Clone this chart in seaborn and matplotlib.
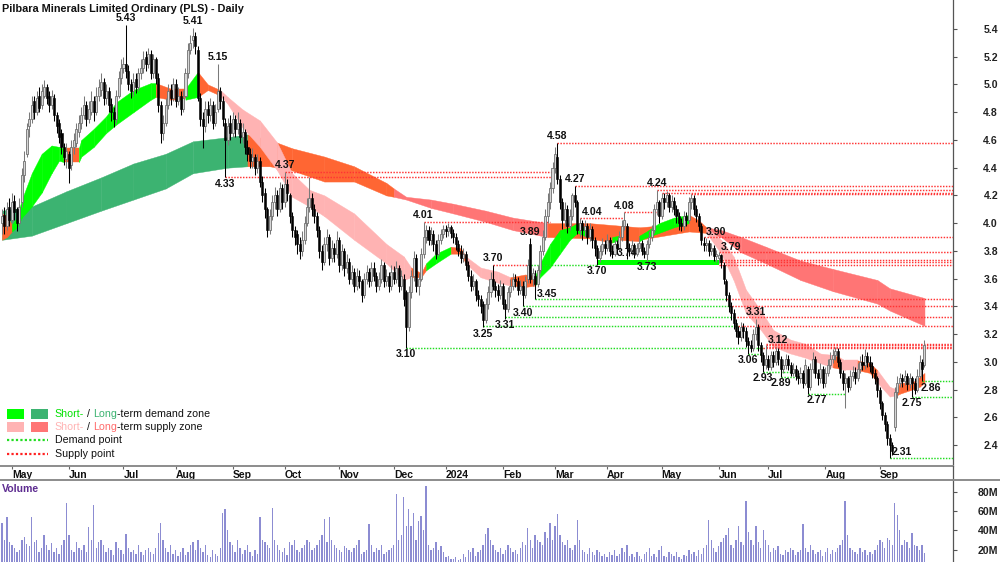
import numpy as np
import pandas as pd
import matplotlib
matplotlib.use("Agg")
import matplotlib.pyplot as plt
from matplotlib.patches import Rectangle
from matplotlib.lines import Line2D
from matplotlib.offsetbox import TextArea, DrawingArea, HPacker, VPacker, AnchoredOffsetbox
import seaborn as sns

# ---------------------------------------------------------------- data
title = "Pilbara Minerals Limited Ordinary (PLS) - Daily"
first_day = "2023-04-25"

opens = [
    4.00,4.06,3.98,4.12,4.02,4.16,4.10,4.00,4.15,4.35,
    4.50,4.70,4.75,4.88,4.80,4.92,4.85,4.92,4.98,4.92,
    4.85,4.90,4.78,4.72,4.65,4.55,4.46,4.50,4.42,4.55,
    4.58,4.66,4.72,4.78,4.85,4.75,4.80,4.88,4.80,4.92,
    4.96,5.02,4.90,4.95,4.86,4.80,4.75,4.92,5.05,5.12,
    5.15,5.10,5.00,4.95,5.04,4.98,5.08,5.12,5.20,5.15,
    5.22,5.08,5.18,5.05,4.85,4.65,4.72,4.85,4.96,4.90,
    5.00,4.88,4.92,4.82,4.92,5.08,5.25,5.32,5.35,5.25,
    4.90,4.75,4.70,4.82,4.78,4.85,4.72,4.82,4.95,4.88,
    4.72,4.60,4.72,4.65,4.75,4.68,4.72,4.62,4.66,4.55,
    4.50,4.45,4.48,4.40,4.45,4.30,4.22,4.10,3.95,4.05,
    4.15,4.20,4.10,4.25,4.15,4.28,4.20,4.05,3.95,3.92,
    3.85,3.80,3.88,4.00,4.12,4.18,4.10,4.05,3.95,3.80,
    3.72,3.85,3.90,3.75,3.82,3.78,3.88,3.70,3.80,3.68,
    3.72,3.60,3.65,3.55,3.62,3.58,3.48,3.60,3.65,3.58,
    3.68,3.62,3.55,3.60,3.70,3.58,3.62,3.55,3.65,3.60,
    3.68,3.55,3.60,3.50,3.25,3.50,3.62,3.75,3.55,3.60,
    3.78,3.90,3.95,3.88,3.92,3.85,3.78,3.88,3.92,3.96,
    3.94,3.97,3.93,3.90,3.85,3.80,3.75,3.78,3.70,3.62,
    3.55,3.58,3.48,3.45,3.42,3.30,3.42,3.50,3.60,3.55,
    3.52,3.48,3.55,3.42,3.38,3.50,3.55,3.60,3.58,3.52,
    3.55,3.48,3.60,3.85,3.60,3.62,3.56,3.66,3.80,3.90,
    4.05,4.15,4.25,4.40,4.48,4.32,4.15,4.02,4.10,3.98,
    4.05,4.20,4.15,3.95,4.00,3.95,3.98,3.90,3.96,3.88,
    3.82,3.75,3.80,3.85,3.82,3.88,3.80,3.78,3.85,3.82,
    3.90,3.98,3.98,3.82,3.80,3.84,3.78,3.82,3.86,3.80,
    3.78,3.85,3.90,3.95,4.10,4.15,4.05,4.18,4.15,4.20,
    4.12,4.16,4.10,4.05,4.00,3.98,4.05,4.02,4.15,4.18,
    4.10,4.05,3.98,3.86,3.84,3.86,3.80,3.82,3.76,3.75,
    3.77,3.70,3.58,3.48,3.40,3.35,3.28,3.22,3.18,3.25,
    3.22,3.15,3.12,3.10,3.20,3.25,3.12,3.05,2.98,3.02,
    2.96,3.05,3.00,3.08,3.02,2.95,2.98,3.02,2.98,2.92,
    2.95,2.90,2.88,2.92,2.85,2.95,2.82,2.95,3.02,2.92,
    2.88,2.95,2.85,2.92,2.98,3.02,3.05,3.08,3.00,2.92,
    2.85,2.88,2.82,2.90,2.93,2.88,2.95,3.00,2.98,3.04,
    3.00,2.97,2.92,2.88,2.80,2.70,2.62,2.55,2.45,2.40,
    2.53,2.78,2.85,2.88,2.86,2.90,2.84,2.88,2.85,2.80,
    2.90,3.00,2.98]

highs = [
    4.10,4.12,4.15,4.18,4.22,4.20,4.12,4.18,4.40,4.52,
    4.72,4.80,4.92,4.92,4.95,4.98,5.00,5.03,5.00,4.95,
    4.96,4.93,4.80,4.75,4.68,4.58,4.58,4.52,4.60,4.65,
    4.72,4.78,4.84,4.92,4.88,4.88,4.95,4.92,4.98,5.04,
    5.08,5.05,5.00,4.98,4.90,4.84,4.96,5.10,5.18,5.20,
    5.43,5.14,5.04,5.08,5.08,5.12,5.18,5.24,5.24,5.26,
    5.25,5.22,5.20,5.08,4.88,4.78,4.90,5.00,5.00,5.05,
    5.04,4.98,4.95,4.96,5.12,5.30,5.36,5.41,5.38,5.28,
    4.94,4.80,4.88,4.88,4.90,4.88,4.86,5.15,4.98,4.92,
    4.76,4.76,4.78,4.80,4.78,4.80,4.75,4.72,4.68,4.60,
    4.54,4.54,4.50,4.50,4.48,4.34,4.25,4.12,4.10,4.20,
    4.26,4.24,4.30,4.28,4.37,4.32,4.22,4.08,3.98,3.95,
    3.90,3.94,4.05,4.18,4.33,4.22,4.14,4.08,3.98,3.84,
    3.90,3.96,3.92,3.88,3.86,3.94,3.90,3.85,3.82,3.78,
    3.75,3.70,3.68,3.68,3.66,3.60,3.64,3.70,3.68,3.72,
    3.72,3.65,3.65,3.74,3.72,3.67,3.65,3.70,3.69,3.73,
    3.70,3.66,3.63,3.52,3.55,3.66,3.80,3.78,3.64,3.82,
    4.01,3.99,3.98,3.97,3.95,3.88,3.92,3.96,3.99,3.99,
    4.00,3.99,3.96,3.93,3.88,3.84,3.82,3.80,3.73,3.66,
    3.63,3.60,3.52,3.48,3.44,3.46,3.55,3.65,3.70,3.58,
    3.56,3.59,3.57,3.45,3.54,3.60,3.64,3.63,3.61,3.59,
    3.58,3.62,3.74,3.89,3.68,3.66,3.70,3.84,3.95,4.10,
    4.22,4.30,4.44,4.55,4.58,4.35,4.18,4.15,4.13,4.10,
    4.22,4.27,4.17,4.04,4.02,4.02,4.00,4.00,3.98,3.90,
    3.84,3.84,3.89,3.88,3.92,3.90,3.84,3.88,3.88,3.94,
    4.02,4.08,4.00,3.86,3.88,3.86,3.86,3.90,3.88,3.83,
    3.88,3.94,3.99,4.14,4.24,4.17,4.22,4.22,4.23,4.22,
    4.20,4.19,4.13,4.08,4.04,4.09,4.08,4.19,4.21,4.20,
    4.13,4.07,4.00,3.90,3.89,3.88,3.86,3.84,3.81,3.79,
    3.78,3.72,3.60,3.50,3.43,3.38,3.31,3.26,3.29,3.28,
    3.25,3.18,3.16,3.24,3.31,3.27,3.14,3.07,3.12,3.05,
    3.08,3.08,3.11,3.10,3.04,3.02,3.06,3.05,3.00,2.99,
    2.98,2.94,2.96,2.94,3.02,2.97,2.99,3.07,3.04,2.95,
    2.99,2.97,2.96,3.02,3.07,3.09,3.11,3.10,3.02,2.94,
    2.92,2.90,2.94,2.97,2.96,2.99,3.04,3.06,3.09,3.07,
    3.04,3.00,2.95,2.90,2.82,2.72,2.64,2.57,2.48,2.42,
    2.82,2.90,2.92,2.91,2.94,2.92,2.92,2.90,2.88,2.95,
    3.05,3.02,3.16]

lows = [
    3.92,3.92,3.95,3.98,4.00,4.02,3.94,3.98,4.12,4.30,
    4.48,4.62,4.72,4.75,4.78,4.80,4.82,4.90,4.86,4.80,
    4.82,4.74,4.65,4.58,4.50,4.42,4.40,4.29,4.38,4.50,
    4.55,4.62,4.68,4.75,4.70,4.72,4.78,4.74,4.78,4.88,
    4.92,4.85,4.86,4.80,4.74,4.69,4.72,4.90,5.00,5.08,
    5.05,4.96,4.90,4.92,4.94,4.95,5.04,5.08,5.10,5.12,
    5.04,5.05,5.00,4.80,4.58,4.60,4.70,4.82,4.85,4.88,
    4.84,4.85,4.78,4.80,4.90,5.05,5.22,5.26,5.22,4.88,
    4.70,4.54,4.66,4.72,4.74,4.68,4.70,4.80,4.82,4.70,
    4.33,4.56,4.60,4.62,4.62,4.64,4.58,4.58,4.50,4.45,
    4.40,4.40,4.35,4.36,4.26,4.15,4.04,3.90,3.92,4.02,
    4.10,4.05,4.08,4.10,4.12,4.16,4.00,3.90,3.84,3.78,
    3.74,3.76,3.85,3.98,4.08,4.05,4.00,3.90,3.75,3.66,
    3.70,3.80,3.70,3.72,3.72,3.75,3.65,3.66,3.62,3.64,
    3.56,3.56,3.50,3.52,3.53,3.43,3.46,3.56,3.54,3.55,
    3.58,3.50,3.52,3.57,3.54,3.55,3.50,3.52,3.56,3.57,
    3.50,3.52,3.40,3.10,3.22,3.46,3.58,3.50,3.48,3.58,
    3.75,3.86,3.84,3.84,3.80,3.74,3.76,3.85,3.89,3.90,
    3.91,3.89,3.86,3.81,3.76,3.71,3.72,3.66,3.58,3.51,
    3.52,3.44,3.40,3.35,3.25,3.28,3.38,3.47,3.52,3.47,
    3.44,3.45,3.38,3.31,3.36,3.47,3.52,3.54,3.48,3.49,
    3.40,3.46,3.57,3.57,3.55,3.45,3.54,3.64,3.77,3.88,
    4.00,4.10,4.22,4.36,4.28,4.10,3.96,3.98,3.93,3.95,
    4.02,4.12,3.92,3.90,3.88,3.90,3.85,3.87,3.82,3.76,
    3.70,3.72,3.77,3.78,3.80,3.76,3.75,3.76,3.78,3.80,
    3.87,3.95,3.74,3.76,3.77,3.75,3.76,3.79,3.77,3.75,
    3.73,3.82,3.87,3.93,4.06,4.00,4.03,4.10,4.12,4.08,
    4.08,4.06,4.00,3.95,3.94,3.95,3.98,4.00,4.10,4.06,
    4.01,3.94,3.84,3.80,3.80,3.76,3.77,3.73,3.72,3.71,
    3.68,3.56,3.44,3.36,3.30,3.24,3.18,3.13,3.15,3.17,
    3.11,3.06,3.07,3.08,3.16,3.08,3.00,2.93,2.95,2.94,
    2.94,2.96,2.98,2.98,2.89,2.92,2.95,2.94,2.90,2.90,
    2.87,2.84,2.85,2.81,2.83,2.77,2.80,2.92,2.88,2.83,
    2.85,2.81,2.82,2.90,2.95,2.99,3.01,2.96,2.88,2.80,
    2.67,2.78,2.80,2.86,2.84,2.86,2.92,2.94,2.95,2.96,
    2.93,2.88,2.84,2.75,2.66,2.58,2.50,2.40,2.31,2.33,
    2.50,2.74,2.82,2.82,2.83,2.80,2.81,2.75,2.77,2.78,
    2.88,2.86,2.96]

closes = [
    4.05,3.98,4.10,4.02,4.15,4.08,4.00,4.12,4.35,4.45,
    4.68,4.75,4.85,4.80,4.90,4.83,4.95,4.98,4.90,4.85,
    4.92,4.78,4.70,4.62,4.55,4.48,4.52,4.40,4.55,4.60,
    4.68,4.72,4.78,4.85,4.75,4.82,4.88,4.80,4.92,4.98,
    5.02,4.90,4.95,4.85,4.80,4.75,4.92,5.05,5.12,5.15,
    5.10,5.00,4.95,5.02,4.98,5.08,5.12,5.18,5.15,5.22,
    5.08,5.18,5.05,4.85,4.65,4.72,4.85,4.95,4.90,5.00,
    4.88,4.92,4.82,4.90,5.08,5.25,5.30,5.35,5.28,4.90,
    4.75,4.70,4.82,4.78,4.85,4.72,4.80,4.95,4.88,4.75,
    4.60,4.70,4.65,4.75,4.68,4.72,4.62,4.66,4.55,4.50,
    4.45,4.48,4.40,4.45,4.30,4.20,4.10,3.95,4.05,4.15,
    4.20,4.10,4.25,4.15,4.28,4.22,4.05,3.95,3.90,3.85,
    3.80,3.88,4.00,4.12,4.18,4.10,4.05,3.95,3.80,3.72,
    3.85,3.90,3.75,3.82,3.78,3.88,3.70,3.80,3.68,3.72,
    3.60,3.65,3.55,3.62,3.58,3.48,3.60,3.65,3.58,3.68,
    3.62,3.55,3.60,3.70,3.58,3.62,3.55,3.65,3.60,3.68,
    3.55,3.62,3.45,3.25,3.50,3.62,3.75,3.55,3.60,3.78,
    3.90,3.95,3.88,3.92,3.85,3.78,3.88,3.92,3.96,3.94,
    3.97,3.93,3.90,3.85,3.80,3.75,3.78,3.70,3.62,3.55,
    3.58,3.48,3.45,3.40,3.30,3.42,3.50,3.60,3.55,3.52,
    3.48,3.55,3.42,3.38,3.50,3.55,3.60,3.58,3.52,3.55,
    3.48,3.58,3.70,3.60,3.64,3.56,3.66,3.80,3.90,4.05,
    4.15,4.25,4.40,4.50,4.32,4.15,4.02,4.10,3.98,4.05,
    4.20,4.15,3.95,4.00,3.95,3.98,3.90,3.96,3.88,3.82,
    3.75,3.80,3.85,3.82,3.88,3.80,3.78,3.85,3.82,3.90,
    3.98,4.02,3.82,3.80,3.84,3.78,3.82,3.86,3.80,3.78,
    3.85,3.90,3.95,4.10,4.15,4.05,4.18,4.15,4.20,4.12,
    4.16,4.10,4.05,4.00,3.98,4.05,4.02,4.15,4.18,4.10,
    4.05,3.98,3.88,3.84,3.86,3.80,3.82,3.76,3.78,3.77,
    3.72,3.60,3.48,3.40,3.35,3.28,3.22,3.18,3.25,3.22,
    3.15,3.12,3.10,3.20,3.25,3.12,3.05,2.98,3.02,2.96,
    3.05,3.00,3.08,3.02,2.95,2.98,3.02,2.98,2.92,2.95,
    2.90,2.88,2.92,2.85,2.98,2.82,2.95,3.02,2.92,2.88,
    2.95,2.85,2.92,2.98,3.02,3.05,3.08,3.00,2.92,2.85,
    2.88,2.82,2.90,2.93,2.88,2.95,3.00,2.98,3.04,3.00,
    2.97,2.92,2.88,2.80,2.70,2.62,2.55,2.45,2.40,2.36,
    2.78,2.85,2.88,2.86,2.90,2.84,2.88,2.85,2.80,2.90,
    3.00,2.95,3.12]

volume_m = [
    48,30,54,28,25,22,18,20,30,33,
    26,24,54,28,30,18,22,35,25,20,
    27,18,22,16,25,30,68,35,20,18,
    28,22,20,25,18,43,30,66,22,28,
    30,25,18,22,20,15,28,22,20,16,
    36,22,18,20,16,25,18,15,20,22,
    18,16,22,37,48,30,22,18,25,16,
    20,14,18,22,15,18,25,28,20,30,
    22,18,25,15,12,20,16,14,22,58,
    62,40,28,25,18,30,22,16,20,25,
    18,14,20,16,54,30,28,25,22,63,
    30,25,20,18,22,15,28,25,30,20,
    18,22,25,30,28,20,22,25,30,35,
    52,28,54,30,25,22,20,18,24,22,
    20,18,22,25,30,16,18,20,47,25,
    18,22,20,25,16,18,20,22,25,78,
    30,35,74,45,62,44,58,30,50,55,
    40,86,25,20,22,28,20,24,18,12,
    14,10,10,12,9,10,16,12,20,18,
    22,14,18,20,25,36,42,30,25,20,
    18,22,16,20,25,22,18,20,16,22,
    28,25,42,30,22,35,30,28,25,38,
    32,48,30,45,57,35,28,25,30,22,
    20,25,51,30,20,18,16,22,18,15,
    20,18,14,16,12,18,15,20,14,16,
    22,18,25,14,16,12,18,14,10,16,
    18,22,14,16,12,20,24,14,12,18,
    16,14,18,12,10,15,14,20,16,18,
    14,20,16,22,25,51,30,22,18,24,
    28,32,35,42,25,22,30,45,28,25,
    70,38,30,25,44,28,22,40,30,25,
    18,22,20,24,16,15,20,18,22,20,
    15,18,20,47,22,18,25,20,16,18,
    20,14,18,22,16,20,18,22,25,30,
    70,35,22,20,18,16,22,18,20,15,
    18,16,20,25,30,28,22,32,30,25,
    68,56,40,25,30,28,22,37,25,24,
    20,25,17]

# short-term zone (trading-day index, lower / upper edge, state of following stretch)
short_idx = [0,2,4,6,8,12,16,20,23,25,31,32,37,42,46,53,60,62,68,74,79,83,88,91,97,
             104,111,117,124,130,142,155,162,165,169,171,175,181,185,187,193,200,205,211,215,
             217,221,225,229,232,236,240,246,249,257,259,265,271,277,281,284,290,295,300,306,
             311,318,324,330,335,338,340,345,350,353,358,361,362,367,370,372]
short_lo = [3.88,3.90,3.94,3.97,4.04,4.12,4.22,4.36,4.45,4.44,4.44,4.48,4.55,4.65,4.71,
            4.80,4.89,4.91,4.89,4.89,4.91,4.96,4.92,4.86,4.69,4.55,4.38,4.19,4.12,4.05,
            3.88,3.71,3.59,3.61,3.61,3.66,3.71,3.78,3.78,3.71,3.61,3.57,3.55,3.54,3.55,
            3.61,3.68,3.78,3.88,3.93,3.90,3.88,3.86,3.88,3.87,3.89,3.93,3.97,4.00,3.95,
            3.93,3.78,3.59,3.35,3.23,3.11,3.06,3.03,2.99,2.96,2.95,2.94,2.94,2.92,2.85,
            2.75,2.76,2.77,2.80,2.82,2.85]
short_hi = [4.07,4.05,3.99,4.04,4.17,4.36,4.50,4.56,4.55,4.54,4.54,4.60,4.68,4.77,4.87,
            4.96,5.01,5.01,4.97,4.97,5.09,5.00,4.96,4.91,4.82,4.74,4.58,4.36,4.24,4.20,
            4.07,3.85,3.76,3.68,3.64,3.71,3.78,3.83,3.82,3.76,3.68,3.65,3.61,3.63,3.62,
            3.71,3.85,3.95,3.97,4.00,3.95,3.93,3.90,3.91,3.91,3.93,4.00,4.04,4.06,4.02,
            3.97,3.88,3.76,3.52,3.37,3.23,3.16,3.13,3.06,3.05,3.03,3.01,3.01,2.99,2.94,
            2.82,2.80,2.85,2.85,2.89,2.92]
short_state = "OOGGGGGGGOGGGGGGGOOGOOPPPPPPPPPPPOOGGOOPPPOOGGGGGGOOGOGGGGOOPPPPPPPPPOPPOOPPOOOO"

# long-term zone
long_idx = [0,12,26,40,53,66,77,91,99,108,117,130,142,155,158,163,173,182,195,206,
            220,237,257,277,284,290,298,308,322,335,353,358,372]
long_lo = [3.88,3.91,4.00,4.09,4.17,4.25,4.36,4.40,4.41,4.41,4.38,4.30,4.30,4.20,4.19,
           4.17,4.11,4.07,4.01,3.95,3.90,3.89,3.88,3.94,3.93,3.90,3.79,3.71,3.59,3.51,
           3.42,3.37,3.26]
long_hi = [4.09,4.12,4.23,4.33,4.43,4.50,4.59,4.62,4.64,4.60,4.54,4.48,4.41,4.29,4.25,
           4.19,4.17,4.14,4.09,4.04,4.00,4.00,3.97,4.00,3.97,3.95,3.90,3.83,3.73,3.67,
           3.59,3.53,3.46]
long_state = "GGGGGGGGOOOOOOSSSSSSOOOOSSSSSSSS"

# supply (S) / demand (D) points: level, first day, last day (None = to the right edge)
sd_level = [4.37,4.33,4.01,3.70,3.70,4.58,4.27,4.04,4.08,4.24,4.22,4.21,3.90,3.79,
            3.70,3.72,3.735,3.45,3.45,3.40,3.40,3.32,3.32,3.26,3.26,3.10,3.10,
            3.11,3.12,3.13,3.06,2.93,2.89,2.77,2.31,2.75,2.86]
sd_start = [114,90,170,198,212,224,231,233,251,264,266,278,283,289,
            289,289,289,215,292,210,293,203,295,194,297,163,307,
            308,308,308,301,307,314,325,358,367,371]
sd_end = [222,222,221,212,240,None,None,251,264,None,None,None,None,None,
          None,None,None,292,None,293,None,295,None,297,None,307,None,
          None,None,None,306,321,324,340,None,None,None]
sd_kind = "SSSSDSSSSSSSSSSSSDSDSDSDSDSSSSDDDDDDD"

# short-term demand zone band drawn solid
zone_start, zone_end, zone_lo, zone_hi = 240, 289, 3.70, 3.735

# point labels: value, day, placement
lab_value = [5.43,5.41,5.15,4.33,4.37,4.01,3.10,3.70,3.25,3.31,3.40,3.45,3.89,4.58,4.27,
             4.04,4.08,3.70,3.74,3.73,4.24,3.90,3.79,3.31,3.12,3.06,2.93,2.89,2.77,2.31,
             2.75,2.86]
lab_idx = [50,77,87,90,114,170,163,198,194,203,210,215,213,224,231,
           233,251,240,252,260,264,283,289,304,308,301,307,314,325,358,
           367,371]
lab_side = ["a","a","a","b","a","a","b","a","b","b","b","r","a","a","a",
            "r","a","b","a","b","a","r","r","a","r","b","b","b","rb","r",
            "b","rb"]

price_ticks = [2.4,2.6,2.8,3.0,3.2,3.4,3.6,3.8,4.0,4.2,4.4,4.6,4.8,5.0,5.2,5.4]
vol_ticks = [20,40,60,80]

# ---------------------------------------------------------------- style
sns.set_theme(style="white")
plt.rcParams["font.family"] = ["Liberation Sans", "DejaVu Sans"]

n = len(closes)
x = np.arange(n)
dates = pd.bdate_range(first_day, periods=n)
o = np.array(opens, float)
c = np.array(closes, float)
h = np.maximum(np.array(highs, float), np.maximum(o, c))
l = np.minimum(np.array(lows, float), np.minimum(o, c))
v = np.array(volume_m, float)

W, H = 1000, 562
fig = plt.figure(figsize=(W / 100, H / 100), dpi=100)
fig.patch.set_facecolor("white")
ax = fig.add_axes([0, 1 - 466 / H, 953 / W, 466 / H])
axv = fig.add_axes([0, 0, 953 / W, 82 / H])
x_lo, x_hi = -0.8, 383.5

SHORT = {"G": "#00ff00", "O": "#ff6633", "P": "#ffb3b3"}
LONG = {"G": "#3cb371", "O": "#ff6633", "S": "#ff7575"}


def band(idx, lo, hi, states, cmap, z):
    for k, s in enumerate(states):
        ax.fill_between(idx[k:k + 2], lo[k:k + 2], hi[k:k + 2], facecolor=cmap[s],
                        edgecolor=cmap[s], linewidth=0.3, zorder=z)


band(long_idx, long_lo, long_hi, long_state, LONG, 1)
band(short_idx, short_lo, short_hi, short_state, SHORT, 2)

SD = {"S": "#ff3333", "D": "#22dd22"}
for lvl, s, e, k in zip(sd_level, sd_start, sd_end, sd_kind):
    ax.plot([s, x_hi + 1 if e is None else e], [lvl, lvl], color=SD[k],
            linestyle=(0, (1, 1)), linewidth=1.05, zorder=3)
ax.fill_between([zone_start, zone_end], zone_lo, zone_hi, color="#00ff00", linewidth=0, zorder=3)

# candles
up = c >= o
ax.vlines(x[up], l[up], h[up], color="#7a7a7a", linewidth=0.75, zorder=4)
ax.vlines(x[~up], l[~up], h[~up], color="#000000", linewidth=0.75, zorder=4)
bottom = np.minimum(o, c)
height = np.maximum(np.abs(c - o), 0.008)
ax.bar(x[up], height[up], bottom=bottom[up], width=0.82, color="#d6d6d6",
       edgecolor="#707070", linewidth=0.6, zorder=5)
ax.bar(x[~up], height[~up], bottom=bottom[~up], width=0.82, color="#000000",
       edgecolor="#000000", linewidth=0.4, zorder=5)

# point labels
OFFS = {"a": (0, 1.0, "center", "bottom"), "b": (0, -1.0, "center", "top"),
        "r": (1.5, 0.3, "left", "bottom"), "rb": (-1, -1, "left", "top")}
for val, i, side in zip(lab_value, lab_idx, lab_side):
    dx, dy, ha, va = OFFS[side]
    ax.annotate(f"{val:.2f}", xy=(i, val), xytext=(dx, dy), textcoords="offset points",
                ha=ha, va=va, fontsize=7.6, fontweight="bold", color="#111111", zorder=6)

# axes formatting (price)
ax.set_xlim(x_lo, x_hi)
ax.set_ylim(2.249, 5.609)
mpos = [i for i in range(1, n) if dates[i].month != dates[i - 1].month]
mlab = [str(dates[i].year) if dates[i].month == 1 else dates[i].strftime("%b") for i in mpos]
ax.set_xticks(mpos)
ax.set_xticklabels(mlab, fontsize=7.5, fontweight="bold", color="#111111")
for t in ax.get_xticklabels():
    t.set_horizontalalignment("left")
ax.tick_params(axis="x", bottom=True, direction="out", length=2.2, width=0.8, color="#666666", pad=0.5)
ax.yaxis.tick_right()
ax.set_yticks(price_ticks)
ax.set_yticklabels([f"{t:.1f}" for t in price_ticks], fontsize=7.6, fontweight="bold", color="#222222")
ax.tick_params(axis="y", right=True, left=False, direction="out", length=3, width=0.8,
               color="#555555", pad=29.4)
for t in ax.get_yticklabels():
    t.set_horizontalalignment("right")
for s in ["top", "left"]:
    ax.spines[s].set_visible(False)
ax.spines["bottom"].set_color("#8c8c8c")
ax.spines["bottom"].set_linewidth(1.4)
ax.spines["right"].set_color("#555555")
ax.spines["right"].set_linewidth(0.9)
ax.set_facecolor("white")
ax.grid(False)

# volume
sns.barplot(x=x, y=v, native_scale=True, orient="x", width=0.55, color="#8c8cd2",
            saturation=1, errorbar=None, linewidth=0, ax=axv)
axv.set_xlim(x_lo, x_hi)
axv.set_ylim(7.3, 92)
axv.set_xticks([])
axv.set_xlabel("")
axv.set_ylabel("")
axv.yaxis.tick_right()
axv.set_yticks(vol_ticks)
axv.set_yticklabels([f"{t}M" for t in vol_ticks], fontsize=7.6, fontweight="bold", color="#222222")
axv.tick_params(axis="y", right=True, left=False, direction="out", length=3, width=0.8,
                color="#555555", pad=29.4)
for t in axv.get_yticklabels():
    t.set_horizontalalignment("right")
for s in ["left", "bottom"]:
    axv.spines[s].set_visible(False)
axv.spines["top"].set_color("#8c8c8c")
axv.spines["top"].set_linewidth(1.4)
axv.spines["right"].set_color("#555555")
axv.spines["right"].set_linewidth(0.9)
axv.grid(False)

fig.add_artist(Line2D([953 / W, 953 / W], [1 - 480 / H, 1 - 466 / H], transform=fig.transFigure,
                      color="#555555", lw=0.9))
fig.add_artist(Line2D([953 / W, 1.0], [1 - 480 / H, 1 - 480 / H], transform=fig.transFigure,
                      color="#8c8c8c", lw=1.4))

fig.text(2 / W, 1 - 8.5 / H, title, fontsize=7.8, fontweight="bold", va="center", ha="left",
         color="#111111")
fig.text(2 / W, 1 - 489 / H, "Volume", fontsize=7.6, fontweight="bold", va="center", ha="left",
         color="#5e2d91")

# legend
LEG_FS = 7.7


def txt(s, col="#111111"):
    return TextArea(s, textprops=dict(color=col, fontsize=LEG_FS))


def swatch_pair(c1, c2):
    da = DrawingArea(29.5, 7.2, 0, 0)
    da.add_artist(Rectangle((0, 0), 12.2, 7.2, facecolor=c1, edgecolor="none"))
    da.add_artist(Rectangle((17.3, 0), 12.2, 7.2, facecolor=c2, edgecolor="none"))
    return da


def dotted(col):
    da = DrawingArea(29.5, 7.2, 0, 0)
    da.add_artist(Line2D([0, 29.5], [3.6, 3.6], color=col, lw=1.6, linestyle=(0, (1, 1))))
    return da


def row(lead, texts):
    return HPacker(children=[lead, HPacker(children=texts, sep=0, pad=0, align="baseline")],
                   sep=5, pad=0, align="center")


rows = [
    row(swatch_pair(SHORT["G"], LONG["G"]),
        [txt("Short-", "#00e000"), txt(" / "), txt("Long", "#3cb371"), txt("-term demand zone")]),
    row(swatch_pair(SHORT["P"], LONG["S"]),
        [txt("Short-", "#ffb3b3"), txt(" / "), txt("Long", "#ff6b6b"), txt("-term supply zone")]),
    row(dotted("#22dd22"), [txt("Demand point")]),
    row(dotted("#ff2222"), [txt("Supply point")]),
]
vbox = VPacker(children=rows, sep=2.3, pad=0, align="left")
leg = AnchoredOffsetbox(loc="upper left", child=vbox, pad=0, borderpad=0, frameon=False,
                        bbox_to_anchor=(7 / W, 1 - 409 / H), bbox_transform=fig.transFigure)
leg.set_zorder(7)
ax.add_artist(leg)

fig.savefig("out.png", dpi=100, facecolor="white")
